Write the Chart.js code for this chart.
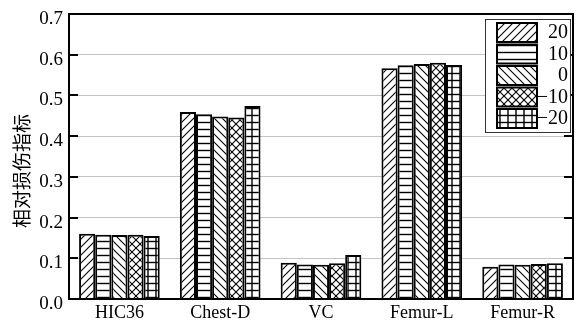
<!DOCTYPE html>
<html>
<head>
<meta charset="utf-8">
<script src="https://cdn.jsdelivr.net/npm/chart.js@4/dist/chart.umd.min.js"></script>
<style>
  html, body { margin: 0; padding: 0; background: #fff; }
  #wrap { width: 586px; height: 322px; }
</style>
</head>
<body>
<div id="wrap"><canvas id="c" width="586" height="322"></canvas></div>
<script>
// Injury metrics per region, one series per offset setting
const categories = ['HIC36', 'Chest-D', 'VC', 'Femur-L', 'Femur-R'];
const seriesLabels = ['20', '10', '0', '\u221210', '\u221220'];
const series20  = [0.160, 0.459, 0.089, 0.567, 0.079];
const series10  = [0.158, 0.454, 0.085, 0.574, 0.085];
const series0   = [0.157, 0.448, 0.084, 0.577, 0.084];
const seriesM10 = [0.158, 0.446, 0.088, 0.580, 0.086];
const seriesM20 = [0.155, 0.474, 0.108, 0.575, 0.088];
const yTickValues = [0.0, 0.1, 0.2, 0.3, 0.4, 0.5, 0.6, 0.7];
const yTitle = '相对损伤指标';

const SERIF = '"Liberation Serif", "Times New Roman", serif';

// Hatch fills
function hatch(kind) {
  const w = 8, h = kind === 'horiz' || kind === 'grid' ? 7 : 8;
  const c = document.createElement('canvas');
  c.width = w; c.height = h;
  const g = c.getContext('2d');
  g.fillStyle = '#fff';
  g.fillRect(0, 0, w, h);
  g.strokeStyle = '#000';
  g.lineWidth = 1.1;
  const line = (x1, y1, x2, y2) => { g.beginPath(); g.moveTo(x1, y1); g.lineTo(x2, y2); g.stroke(); };
  if (kind === 'fwd' || kind === 'cross') {
    line(-1, h + 1, w + 1, -1);
    line(-1, 1, 1, -1);
    line(w - 1, h + 1, w + 1, h - 1);
  }
  if (kind === 'back' || kind === 'cross') {
    line(-1, -1, w + 1, h + 1);
    line(w - 1, -1, w + 1, 1);
    line(-1, h - 1, 1, h + 1);
  }
  if (kind === 'horiz' || kind === 'grid') {
    g.lineWidth = 1.4;
    line(0, 3.5, w, 3.5);
  }
  if (kind === 'grid') {
    g.lineWidth = 1.4;
    line(4, 0, 4, h);
  }
  return g.createPattern(c, 'repeat');
}

const fills = [hatch('fwd'), hatch('horiz'), hatch('back'), hatch('cross'), hatch('grid')];
const values = [series20, series10, series0, seriesM10, seriesM20];

const datasets = seriesLabels.map((lab, i) => ({
  label: lab,
  data: values[i],
  backgroundColor: fills[i],
  borderColor: '#000',
  borderWidth: 2,
  categoryPercentage: 0.8,
  barPercentage: 1.0
}));

// Frame, inward ticks, axis title and boxed legend
const decor = {
  id: 'decor',
  afterDatasetsDraw(chart) {
    const { ctx, chartArea: a, scales } = chart;
    const y = scales.y;
    ctx.save();
    ctx.strokeStyle = '#000';
    ctx.lineWidth = 2;
    ctx.strokeRect(a.left, a.top, a.right - a.left, a.bottom - a.top);
    ctx.beginPath();
    yTickValues.forEach(v => {
      const py = Math.round(y.getPixelForValue(v));
      ctx.moveTo(a.left, py); ctx.lineTo(a.left + 9, py);
      ctx.moveTo(a.right, py); ctx.lineTo(a.right - 9, py);
    });
    ctx.stroke();

    // rotated axis title
    ctx.fillStyle = '#000';
    ctx.font = '19px "Noto Sans CJK SC", sans-serif';
    ctx.textAlign = 'center';
    ctx.textBaseline = 'middle';
    ctx.translate(22, 171);
    ctx.rotate(-Math.PI / 2);
    ctx.fillText(yTitle, 0, 0);
    ctx.restore();

    // legend
    ctx.save();
    const bx = 485, by = 19, bw = 85, bh = 113;
    ctx.fillStyle = '#fff';
    ctx.fillRect(bx, by, bw, bh);
    ctx.strokeStyle = '#333';
    ctx.lineWidth = 1;
    ctx.strokeRect(bx + 0.5, by + 0.5, bw, bh);
    chart.data.datasets.forEach((ds, i) => {
      const top = 23 + i * 21.5;
      ctx.fillStyle = ds.backgroundColor;
      ctx.fillRect(497, top, 40, 19);
      ctx.strokeStyle = '#000';
      ctx.lineWidth = 2;
      ctx.strokeRect(497, top, 40, 19);
      ctx.fillStyle = '#000';
      ctx.font = '20px ' + SERIF;
      ctx.textAlign = 'right';
      ctx.textBaseline = 'middle';
      ctx.fillText(ds.label, 568, top + 10);
    });
    ctx.restore();
  }
};

new Chart(document.getElementById('c'), {
  type: 'bar',
  data: { labels: categories, datasets },
  options: {
    responsive: false,
    animation: false,
    devicePixelRatio: 1,
    layout: { padding: { top: 14, right: 13, left: 0, bottom: 0 } },
    plugins: { legend: { display: false }, tooltip: { enabled: false } },
    scales: {
      x: {
        grid: { display: false, drawTicks: false },
        border: { display: false },
        ticks: { color: '#000', font: { family: SERIF, size: 18 }, padding: 3 },
        afterFit(s) { s.height = 23; s.paddingLeft = 0; s.paddingRight = 0; }
      },
      y: {
        min: 0,
        max: 0.7,
        afterBuildTicks(s) { s.ticks = yTickValues.map(v => ({ value: v })); },
        grid: {
          drawTicks: false,
          lineWidth: 1,
          color: c => (c.tick && (c.tick.value <= 0 || c.tick.value >= 0.7)) ? 'rgba(0,0,0,0)' : '#c4c4c4'
        },
        border: { display: false },
        ticks: {
          color: '#000',
          font: { family: SERIF, size: 19 },
          padding: 6,
          labelOffset: 5,
          callback: v => Number(v).toFixed(1)
        },
        afterFit(s) { s.width = 69; s.paddingTop = 0; s.paddingBottom = 0; }
      }
    }
  },
  plugins: [decor]
});
</script>
</body>
</html>
